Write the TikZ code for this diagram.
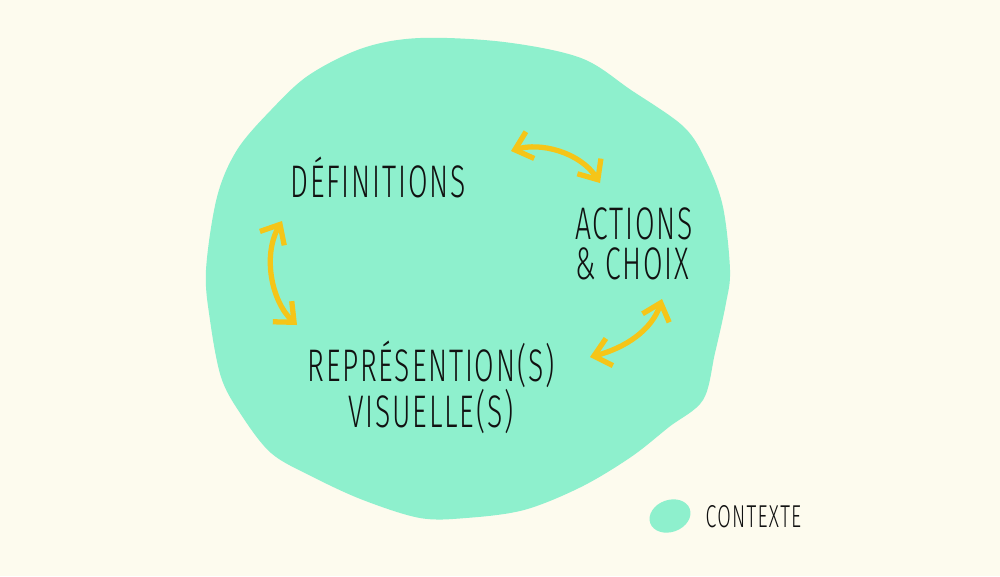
\documentclass[tikz,border=0pt]{standalone}
\usepackage{fontspec}
\setmainfont{Fira Sans}
\newfontfamily\handf[FakeStretch=0.62,LetterSpace=4]{Fira Sans Light}
\usepackage{xcolor}
\usepackage{tikz}
\usetikzlibrary{arrows.meta,positioning}
\definecolor{paper}{HTML}{FDFBEE}
\definecolor{mint}{HTML}{8EF0CD}
\definecolor{gold}{HTML}{F5C518}
\definecolor{ink}{HTML}{111111}
\tikzset{
  ar/.style={{Straight Barb[length=1.6mm,width=2.8mm]}-{Straight Barb[length=1.6mm,width=2.8mm]},line width=1.5pt,gold,line cap=round},
  lbl/.style={text=ink,font=\handf\fontsize{13}{11.5}\selectfont,align=center,inner sep=0pt},
  small/.style={text=ink,font=\handf\fontsize{9}{10}\selectfont,inner sep=0pt}
}

\begin{document}
\begin{tikzpicture}[x=0.1mm,y=-0.1mm]
\useasboundingbox (0,0) rectangle (1000,576);
\fill[paper] (0,0) rectangle (1000,576);
% context blob
\fill[mint] plot[smooth cycle,tension=0.55] coordinates {(420,38) (504,42) (581,58) (631,90) (684,127) (707,163) (723,207) (730,270) (726,303) (715,353) (703,400) (669,427) (631,457) (581,487) (524,510) (466,518) (420,518) (363,500) (313,477) (271,453) (240,413) (221,377) (210,320) (206,270) (217,197) (237,150) (271,110) (309,75) (363,48)};
\node[lbl] (def) at (378,177) {DÉFINITIONS};
\node[lbl,align=left] (act) at (634,244) {ACTIONS\\\& CHOIX};
\node[lbl,font=\handf\fontsize{13}{13}\selectfont] (rep) at (431,387) {REPRÉSENTION(S)\\VISUELLE(S)};
% arrow ends
\coordinate (d1) at (511,151);
\coordinate (a1) at (600,183);
\coordinate (a2) at (662,299);
\coordinate (r1) at (590,357);
\coordinate (r2) at (297,325);
\coordinate (d2) at (282,221);
\draw[ar] (d1) .. controls (540,142) and (580,152) .. (a1);
\draw[ar] (a2) .. controls (652,330) and (625,348) .. (r1);
\draw[ar] (r2) .. controls (272,302) and (262,256) .. (d2);
% legend
\fill[mint,rotate around={20:(670,516)}] (670,516) ellipse (21 and 16);
\node[small,anchor=west] (ctx) at (705,517) {CONTEXTE};
\end{tikzpicture}
\end{document}
